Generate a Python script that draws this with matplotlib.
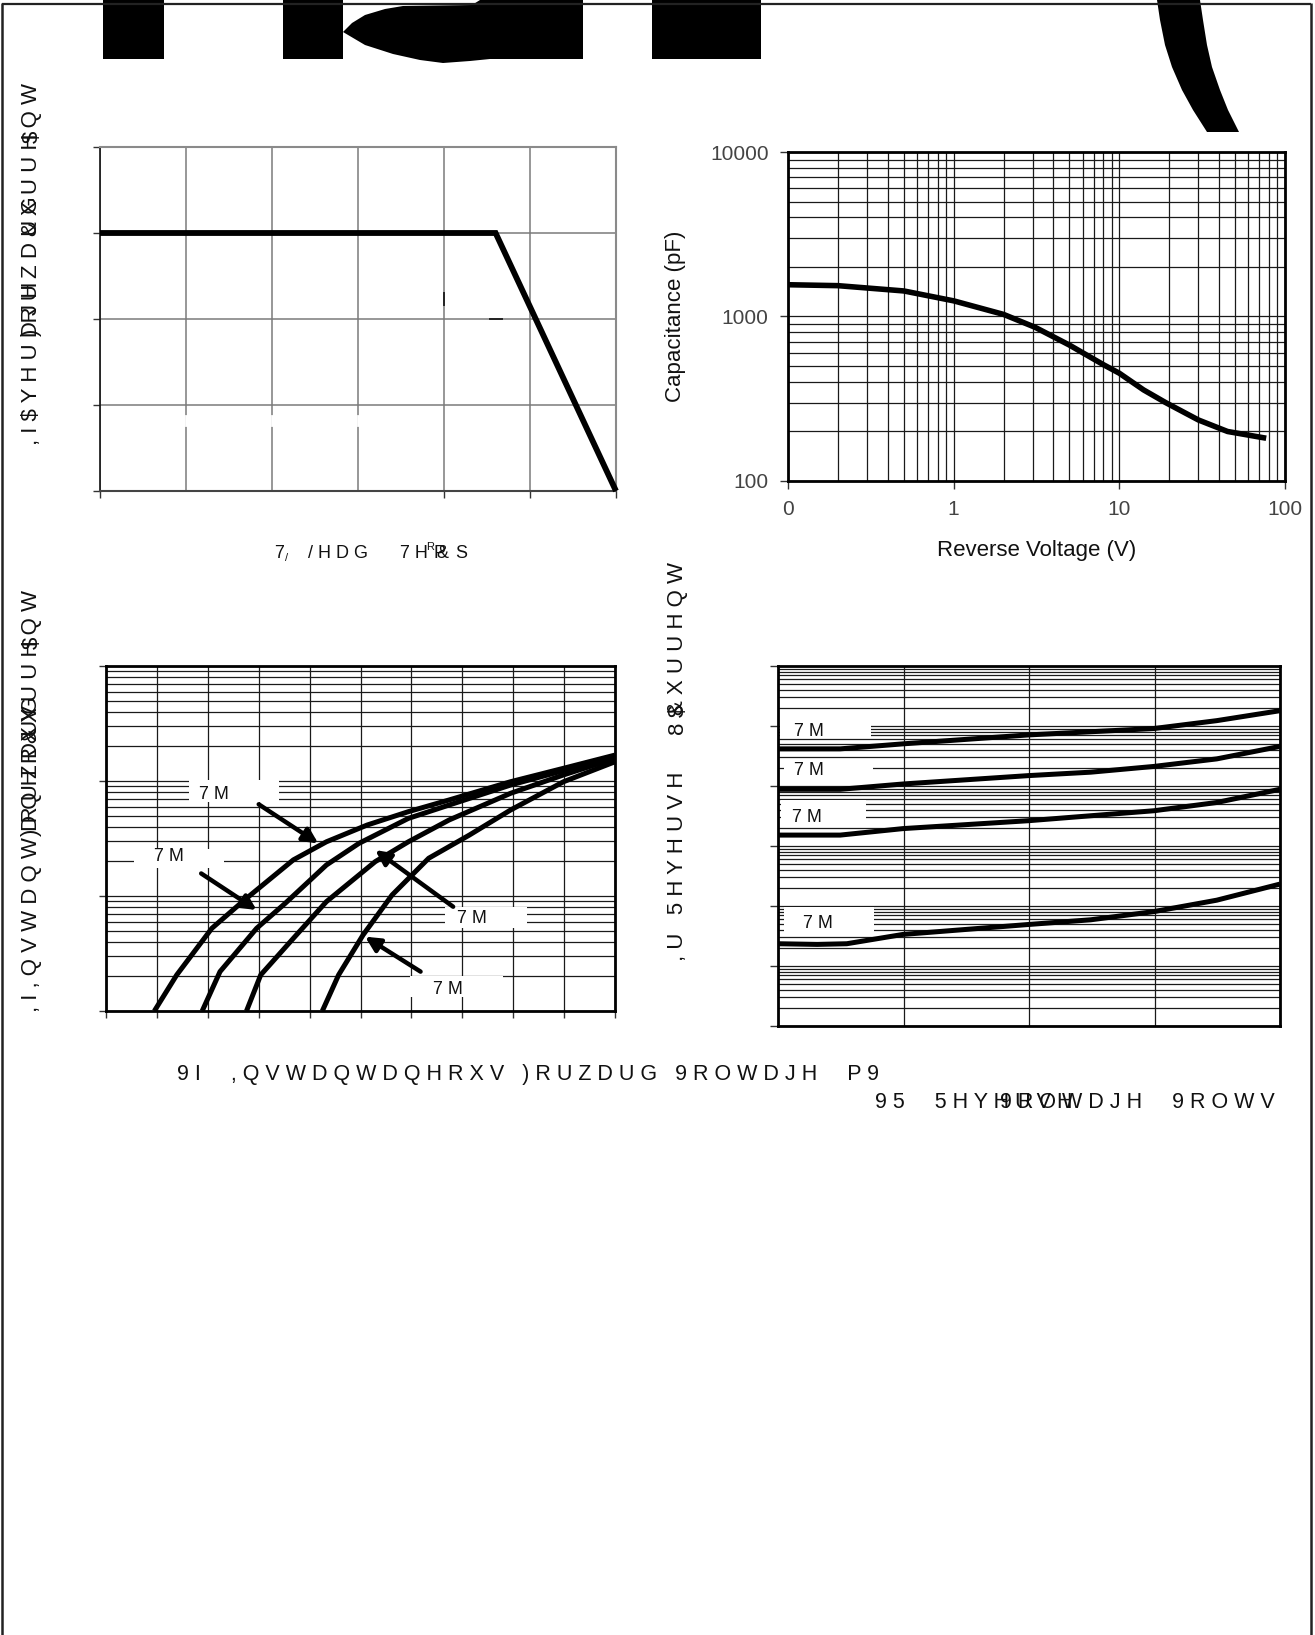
import numpy as np
import matplotlib
matplotlib.use('Agg')
import matplotlib.pyplot as plt
from matplotlib.ticker import LogLocator, NullFormatter, FixedLocator
from matplotlib.patches import Polygon, Rectangle

plt.rcParams['font.family'] = ['Liberation Sans', 'DejaVu Sans']

# ---------------- data ----------------
# Fig. 1: average forward current vs lead temperature
lead_temp = [0, 115, 150]
avg_current = [3.0, 3.0, 0.0]

# Fig. 2: capacitance vs reverse voltage
cap_voltage = [0.1, 0.2, 0.5, 1.0, 2.0, 3.1, 5.0, 8.0, 10, 14, 19, 30, 45, 77]
capacitance = [1560, 1540, 1430, 1245, 1030, 860, 670, 510, 452, 358, 300, 235, 200, 182]

# Fig. 3: instantaneous forward current vs forward voltage (mV)
vf_1 = [95, 139, 208, 272, 368, 433, 513, 594, 674, 795, 899, 1000]
if_1 = [0.01, 0.0206, 0.0524, 0.0923, 0.206, 0.296, 0.414, 0.541, 0.684, 0.986, 1.29, 1.68]
vf_2 = [189, 224, 296, 352, 433, 497, 594, 674, 795, 1000]
if_2 = [0.01, 0.022, 0.0524, 0.0863, 0.186, 0.287, 0.473, 0.618, 0.923, 1.63]
vf_3 = [276, 304, 368, 433, 529, 594, 674, 795, 899, 1000]
if_3 = [0.01, 0.0206, 0.0428, 0.0893, 0.199, 0.296, 0.458, 0.782, 1.13, 1.57]
vf_4 = [425, 457, 505, 562, 634, 714, 795, 899, 1000]
if_4 = [0.01, 0.0206, 0.0458, 0.102, 0.213, 0.339, 0.560, 0.986, 1.47]

# Fig. 4: reverse current vs reverse voltage
vr_1 = [0, 12.4, 24.9, 49.9, 74.9, 87.4, 100]
ir_1 = [41.6, 41.6, 50.4, 71.0, 90.8, 122.8, 180]
vr_2 = [0, 12.4, 24.9, 49.9, 62.3, 74.9, 87.4, 100]
ir_2 = [8.81, 8.81, 10.8, 14.9, 17.0, 21.2, 28.3, 45.7]
vr_3 = [0, 12.4, 24.9, 49.9, 74.9, 87.4, 100]
ir_3 = [1.52, 1.52, 1.95, 2.64, 3.87, 5.31, 8.81]
vr_4 = [0, 7.8, 13.7, 24.9, 49.9, 62.3, 74.9, 87.4, 100]
ir_4 = [0.0235, 0.0229, 0.0235, 0.0336, 0.0492, 0.0589, 0.0807, 0.125, 0.232]

cap_xticks = [0.1, 1, 10, 100]
cap_xticklabels = ['0', '1', '10', '100']
cap_yticks = [100, 1000, 10000]
cap_yticklabels = ['100', '1000', '10000']

label_tj = '7 M'

# ---------------- figure ----------------
W, H = 1315, 1635
fig = plt.figure(figsize=(W / 100, H / 100), dpi=100)
fig.patch.set_facecolor('white')

ov = fig.add_axes([0, 0, 1, 1])
ov.set_xlim(0, W)
ov.set_ylim(H, 0)
ov.axis('off')


def add_ax(x0, y0, x1, y1):
    return fig.add_axes([x0 / W, 1 - y1 / H, (x1 - x0) / W, (y1 - y0) / H])


# page border
bc = '#222222'
ov.plot([2, 1311], [3.5, 3.5], color=bc, lw=1.6, solid_capstyle='butt')
ov.plot([2.5, 2.5], [3, H], color=bc, lw=1.8, solid_capstyle='butt')
ov.plot([1311, 1311], [3, H], color=bc, lw=1.8, solid_capstyle='butt')

# logo fragments (cropped header artwork)
ov.add_patch(Rectangle((103, 0), 61, 59, color='black', lw=0))
ov.add_patch(Rectangle((652, 0), 109, 59, color='black', lw=0))
ov.add_patch(Polygon([(283, 0), (283, 59), (343, 59), (343, 32), (365, 45), (393, 54),
                      (420, 60), (443, 63), (470, 61), (490, 59), (583, 59), (583, 0),
                      (480, 0), (472, 5), (403, 6), (385, 9), (365, 15), (352, 23),
                      (343, 32), (343, 0)], closed=True, color='black', lw=0))
ov.add_patch(Polygon([(1157, 0), (1160, 20), (1165, 45), (1172, 67), (1182, 90),
                      (1193, 110), (1207, 132), (1239, 132), (1228, 110), (1220, 90),
                      (1212, 67), (1207, 45), (1203, 20), (1200, 0)],
                     closed=True, color='black', lw=0))

txtc = '#111111'

# ---------- Fig 1 ----------
ax1 = add_ax(100, 147, 616, 491)
ax1.set_xlim(0, 150)
ax1.set_ylim(0, 4)
ax1.xaxis.set_major_locator(FixedLocator([0, 100, 125, 150]))
ax1.xaxis.set_minor_locator(FixedLocator([25, 50, 75]))
ax1.yaxis.set_major_locator(FixedLocator([0, 1, 2, 3, 4]))
ax1.set_axisbelow(True)
ax1.grid(which='both', color='#7a7a7a', lw=1.1)
ax1.tick_params(which='major', direction='out', length=5, width=1, color='#333',
                labelbottom=False, labelleft=False)
ax1.tick_params(which='minor', length=0)
for s in ['top', 'right']:
    ax1.spines[s].set_color('#8a8a8a')
    ax1.spines[s].set_linewidth(1.5)
ax1.spines['left'].set_color('#111')
ax1.spines['left'].set_linewidth(1.2)
ax1.spines['bottom'].set_color('#444')
ax1.spines['bottom'].set_linewidth(1.5)
# small leftovers of hidden labels in the source page
for gx in [25, 50, 75]:
    ax1.plot([gx, gx], [0.77, 0.87], color='white', lw=2, zorder=1)
ax1.plot([100, 100], [2.16, 2.30], color='#222', lw=1.4, zorder=1)
ax1.plot([113.4, 116.9], [2.0, 2.0], color='#222', lw=1.4, zorder=1)
ax1.plot(lead_temp, avg_current, color='black', lw=4.2, solid_joinstyle='miter',
         solid_capstyle='butt', clip_on=False, zorder=3)

# ---------- Fig 2 ----------
ax2 = add_ax(788, 152, 1285, 481)
ax2.set_xscale('log')
ax2.set_yscale('log')
ax2.set_xlim(0.1, 100)
ax2.set_ylim(100, 10000)
ax2.xaxis.set_major_locator(FixedLocator(cap_xticks))
ax2.yaxis.set_major_locator(FixedLocator(cap_yticks))
ax2.set_xticklabels(cap_xticklabels)
ax2.set_yticklabels(cap_yticklabels)
ax2.xaxis.set_minor_locator(LogLocator(base=10, subs=np.arange(2, 10)))
ax2.yaxis.set_minor_locator(LogLocator(base=10, subs=np.arange(2, 10)))
ax2.xaxis.set_minor_formatter(NullFormatter())
ax2.yaxis.set_minor_formatter(NullFormatter())
ax2.set_axisbelow(True)
ax2.grid(which='both', color='#1a1a1a', lw=0.9)
ax2.tick_params(which='major', direction='out', length=6, width=1, color='#333',
                labelsize=15, labelcolor='#444', pad=8)
ax2.tick_params(which='minor', length=0)
for s in ax2.spines.values():
    s.set_color('black')
    s.set_linewidth(2)
ax2.plot(cap_voltage, capacitance, color='black', lw=4, solid_capstyle='butt',
         solid_joinstyle='round', zorder=3)
ax2.set_ylabel('Capacitance (pF)', fontsize=16, color=txtc, labelpad=17)
ax2.set_xlabel('Reverse Voltage (V)', fontsize=16, color=txtc, labelpad=15)

# ---------- Fig 3 ----------
ax3 = add_ax(106, 666, 615, 1011)
ax3.set_yscale('log')
ax3.set_xlim(0, 1000)
ax3.set_ylim(0.01, 10)
ax3.xaxis.set_major_locator(FixedLocator(np.arange(0, 1001, 100)))
ax3.yaxis.set_major_locator(FixedLocator([0.01, 0.1, 1, 10]))
ax3.yaxis.set_minor_locator(LogLocator(base=10, subs=np.arange(2, 10)))
ax3.yaxis.set_minor_formatter(NullFormatter())
ax3.set_axisbelow(True)
ax3.grid(which='both', color='#1a1a1a', lw=0.9)
ax3.tick_params(which='major', direction='out', length=5, width=1, color='#333',
                labelbottom=False, labelleft=False)
ax3.tick_params(which='minor', length=0)
for s in ax3.spines.values():
    s.set_color('black')
    s.set_linewidth(2)
for vx, iy in [(vf_1, if_1), (vf_2, if_2), (vf_3, if_3), (vf_4, if_4)]:
    ax3.plot(vx, iy, color='black', lw=3.6, solid_capstyle='butt',
             solid_joinstyle='round', zorder=3)

boxes3 = [(0.163, 0.607, 0.177, 0.063, 0.183, 0.628),
          (0.055, 0.414, 0.177, 0.057, 0.095, 0.447),
          (0.666, 0.240, 0.161, 0.062, 0.690, 0.269),
          (0.598, 0.042, 0.181, 0.058, 0.642, 0.061)]
for bx, by, bw, bh, tx, ty in boxes3:
    ax3.add_patch(Rectangle((bx, by), bw, bh, transform=ax3.transAxes,
                            facecolor='white', edgecolor='none', zorder=1))
    ax3.text(tx, ty, label_tj, transform=ax3.transAxes, fontsize=13, color=txtc,
             ha='left', va='center', zorder=4)

arrows3 = [((300, 0.627), (417, 0.287)),
           ((187, 0.157), (296, 0.0755)),
           ((682, 0.0807), (529, 0.251)),
           ((618, 0.0220), (509, 0.0443))]
for (tx, ty), (hx, hy) in arrows3:
    ax3.annotate('', xy=(hx, hy), xytext=(tx, ty),
                 arrowprops=dict(arrowstyle='-|>', color='black', lw=3.2,
                                 mutation_scale=22, shrinkA=0, shrinkB=0),
                 zorder=4)

# ---------- Fig 4 ----------
ax4 = add_ax(778, 666, 1280, 1026)
ax4.set_yscale('log')
ax4.set_xlim(0, 100)
ax4.set_ylim(1e-3, 1e3)
ax4.xaxis.set_major_locator(FixedLocator([0, 25, 50, 75, 100]))
ax4.yaxis.set_major_locator(FixedLocator([1e-3, 1e-2, 1e-1, 1, 10, 100, 1000]))
ax4.yaxis.set_minor_locator(LogLocator(base=10, subs=np.arange(2, 10)))
ax4.yaxis.set_minor_formatter(NullFormatter())
ax4.set_axisbelow(True)
ax4.grid(which='both', color='#1a1a1a', lw=0.9)
ax4.tick_params(axis='y', which='major', direction='out', length=6, width=1, color='#333',
                labelleft=False)
ax4.tick_params(axis='x', which='major', length=0, labelbottom=False)
ax4.tick_params(which='minor', length=0)
for s in ax4.spines.values():
    s.set_color('black')
    s.set_linewidth(2)
for vx, iy in [(vr_1, ir_1), (vr_2, ir_2), (vr_3, ir_3), (vr_4, ir_4)]:
    ax4.plot(vx, iy, color='black', lw=3.6, solid_capstyle='butt',
             solid_joinstyle='round', zorder=3)

boxes4 = [(0.003, 0.801, 0.182, 0.040, 0.032, 0.819),
          (0.011, 0.687, 0.178, 0.045, 0.032, 0.709),
          (0.005, 0.558, 0.171, 0.070, 0.028, 0.580),
          (0.011, 0.262, 0.180, 0.068, 0.049, 0.285)]
for bx, by, bw, bh, tx, ty in boxes4:
    ax4.add_patch(Rectangle((bx, by), bw, bh, transform=ax4.transAxes,
                            facecolor='white', edgecolor='none', zorder=1))
    ax4.text(tx, ty, label_tj, transform=ax4.transAxes, fontsize=13, color=txtc,
             ha='left', va='center', zorder=4)

# ---------- garbled page text (as rendered in the source page) ----------
fs_y = 16
# Fig 1 y label
ov.text(32, 445, ', I $ Y H U D J H', rotation=90, ha='center', va='bottom', fontsize=fs_y, color=txtc)
ov.text(32, 336, ') R U Z D U G', rotation=90, ha='center', va='bottom', fontsize=fs_y, color=txtc)
ov.text(32, 83, '& X U U H Q W', rotation=90, ha='center', va='top', fontsize=fs_y, color=txtc)
ov.text(32, 137, '$', rotation=90, ha='center', va='center', fontsize=fs_y, color=txtc)

# Fig 1 x label
ov.text(274, 553, '7', ha='left', va='center', fontsize=13, color=txtc)
ov.text(285, 558, '/', ha='left', va='center', fontsize=8, color=txtc)
ov.text(308, 553, '/ H D G', ha='left', va='center', fontsize=13, color=txtc)
ov.text(400, 553, '7 H', ha='left', va='center', fontsize=13, color=txtc)
ov.text(426, 547, 'R', ha='left', va='center', fontsize=8, color=txtc)
ov.text(434, 553, 'P', ha='left', va='center', fontsize=13, color=txtc)
ov.text(436, 553, '&', ha='left', va='center', fontsize=13, color=txtc)
ov.text(455, 553, 'S', ha='left', va='center', fontsize=13, color=txtc)

# Fig 3 y label
ov.text(32, 1012, ', I , Q V W D Q W D Q H R X V', rotation=90, ha='center', va='bottom', fontsize=fs_y, color=txtc)
ov.text(32, 836, ') R U Z D U G', rotation=90, ha='center', va='bottom', fontsize=fs_y, color=txtc)
ov.text(32, 590, '& X U U H Q W', rotation=90, ha='center', va='top', fontsize=fs_y, color=txtc)
ov.text(32, 643, '$', rotation=90, ha='center', va='center', fontsize=fs_y, color=txtc)

# Fig 4 y label
ov.text(678, 961, ', U   5 H Y H U V H', rotation=90, ha='center', va='bottom', fontsize=fs_y, color=txtc)
ov.text(678, 562, '& X U U H Q W', rotation=90, ha='center', va='top', fontsize=fs_y, color=txtc)
ov.text(678, 728, '8', rotation=90, ha='center', va='center', fontsize=fs_y, color=txtc)
ov.text(678, 711, '$', rotation=90, ha='center', va='center', fontsize=fs_y, color=txtc)

# Fig 3 / Fig 4 x labels
ov.text(177, 1074, '9 I     , Q V W D Q W D Q H R X V   ) R U Z D U G   9 R O W D J H     P 9',
        ha='left', va='center', fontsize=15.5, color=txtc)
ov.text(875, 1102, '9 5     5 H Y H U V H', ha='left', va='center', fontsize=15.5, color=txtc)
ov.text(1000, 1102, '9 R O W D J H     9 R O W V', ha='left', va='center', fontsize=15.5, color=txtc)

fig.savefig('out.png', dpi=100, facecolor='white')
